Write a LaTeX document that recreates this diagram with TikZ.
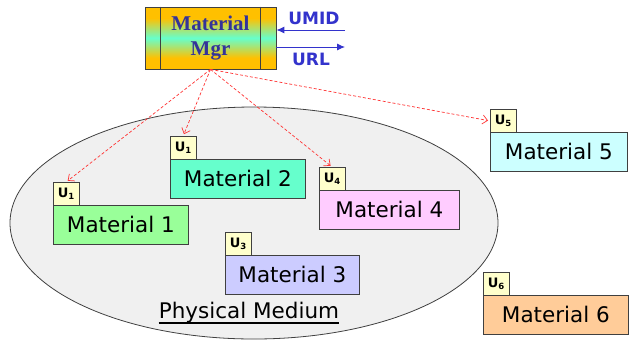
\documentclass[tikz,border=0pt]{standalone}
\usepackage{fontspec}
\setmainfont{DejaVu Sans}
\newfontfamily\mgrfont{Liberation Serif}
\usetikzlibrary{arrows.meta,shapes.geometric}

\definecolor{edgegray}{HTML}{404040}
\definecolor{mediumfill}{HTML}{F0F0F0}
\definecolor{ulabel}{HTML}{FFFFCC}
\definecolor{mgrorange}{HTML}{FFC000}
\definecolor{mgraqua}{HTML}{66FFCC}
\definecolor{mgrtext}{HTML}{333399}
\definecolor{sigblue}{HTML}{3333CC}
\definecolor{linkred}{HTML}{FF3333}
\definecolor{mat1}{HTML}{99FF99}
\definecolor{mat2}{HTML}{66FFCC}
\definecolor{mat3}{HTML}{CCCCFF}
\definecolor{mat4}{HTML}{FFCCFF}
\definecolor{mat5}{HTML}{CCFFFF}
\definecolor{mat6}{HTML}{FFCC99}

% orange band top and bottom, aqua glow in the middle
\pgfdeclareverticalshading{mgrshade}{100bp}{color(0bp)=(mgrorange); color(34bp)=(mgrorange);
  color(50bp)=(mgraqua); color(66bp)=(mgrorange); color(100bp)=(mgrorange)}

% U with a small lowered digit
\newcommand{\uid}[1]{U\raisebox{-2.5pt}{\fontsize{8.5}{9}\selectfont #1}}

\tikzset{
  matbox/.style={draw=edgegray, line width=0.8pt, rectangle, anchor=north west,
    inner sep=0pt, minimum height=39pt, font=\fontsize{21.5}{24}\selectfont},
  ubox/.style={draw=edgegray, line width=0.8pt, fill=ulabel, rectangle, anchor=north west,
    inner sep=0pt, minimum width=25.5pt, minimum height=23pt,
    font=\bfseries\fontsize{13}{14}\selectfont},
  link/.style={draw=linkred, line width=0.7pt, dash pattern=on 3pt off 2pt,
    -{Straight Barb[length=5pt,width=9pt]}, shorten >=2pt},
  sig/.style={draw=sigblue, line width=0.9pt, -{Latex[length=8pt,width=7pt]}},
  siglabel/.style={text=sigblue, font=\bfseries\fontsize{17}{19}\selectfont, inner sep=0pt},
}

\begin{document}
\begin{tikzpicture}[x=1pt,y=-1pt]
\useasboundingbox (0,0) rectangle (629,341);

% the physical medium
\node[ellipse, draw=edgegray, line width=0.8pt, fill=mediumfill, inner sep=0pt,
      minimum width=488pt, minimum height=232pt] (medium) at (254,223) {};
\node[font=\fontsize{21.5}{24}\selectfont, inner sep=0pt] (mediumlabel) at (249,313) {Physical Medium};
\draw[line width=1.3pt] ([yshift=-4pt]mediumlabel.base west) -- ([yshift=-4pt]mediumlabel.base east);

% material manager
\node[draw=edgegray, line width=0.8pt, shading=mgrshade, minimum width=131pt,
      minimum height=62pt, inner sep=0pt, align=center, text=mgrtext,
      font=\mgrfont\bfseries\fontsize{21}{25}\selectfont]
      (mgr) at (210.5,38) {Material\\Mgr};
\draw[edgegray, line width=0.8pt] ([xshift=16pt]mgr.north west) -- ([xshift=16pt]mgr.south west);
\draw[edgegray, line width=0.8pt] ([xshift=-16pt]mgr.north east) -- ([xshift=-16pt]mgr.south east);

% UMID in, URL out
\coordinate (umidR) at (345,30);
\coordinate (urlR) at (345,47);
\draw[sig] (umidR) -- (umidR -| mgr.east);
\draw[sig] (urlR -| mgr.east) -- (urlR);
\node[siglabel] (umid) at (314,18) {UMID};
\node[siglabel] (url) at (311,59) {URL};

% materials with their identifiers
\node[ubox] (lab1) at (53,182) {\uid{1}};
\node[matbox, fill=mat1, minimum width=135pt] (m1) at (53,205) {Material 1};

\node[ubox] (lab2) at (170,136) {\uid{1}};
\node[matbox, fill=mat2, minimum width=135pt] (m2) at (170,159) {Material 2};

\node[ubox] (lab3) at (225,232) {\uid{3}};
\node[matbox, fill=mat3, minimum width=134pt] (m3) at (225,255) {Material 3};

\node[ubox] (lab4) at (319,167) {\uid{4}};
\node[matbox, fill=mat4, minimum width=140pt] (m4) at (319,190) {Material 4};

\node[ubox] (lab5) at (490,109) {\uid{5}};
\node[matbox, fill=mat5, minimum width=137pt] (m5) at (490,132) {Material 5};

\node[ubox] (lab6) at (483,272) {\uid{6}};
\node[matbox, fill=mat6, minimum width=145pt] (m6) at (483,295) {Material 6};

% references from the manager
\draw[link] (mgr.south) -- (lab1.north);
\draw[link] (mgr.south) -- (lab2.north);
\draw[link] (mgr.south) -- (lab4.north);
\draw[link] (mgr.south) -- (lab5.west);
\end{tikzpicture}
\end{document}
